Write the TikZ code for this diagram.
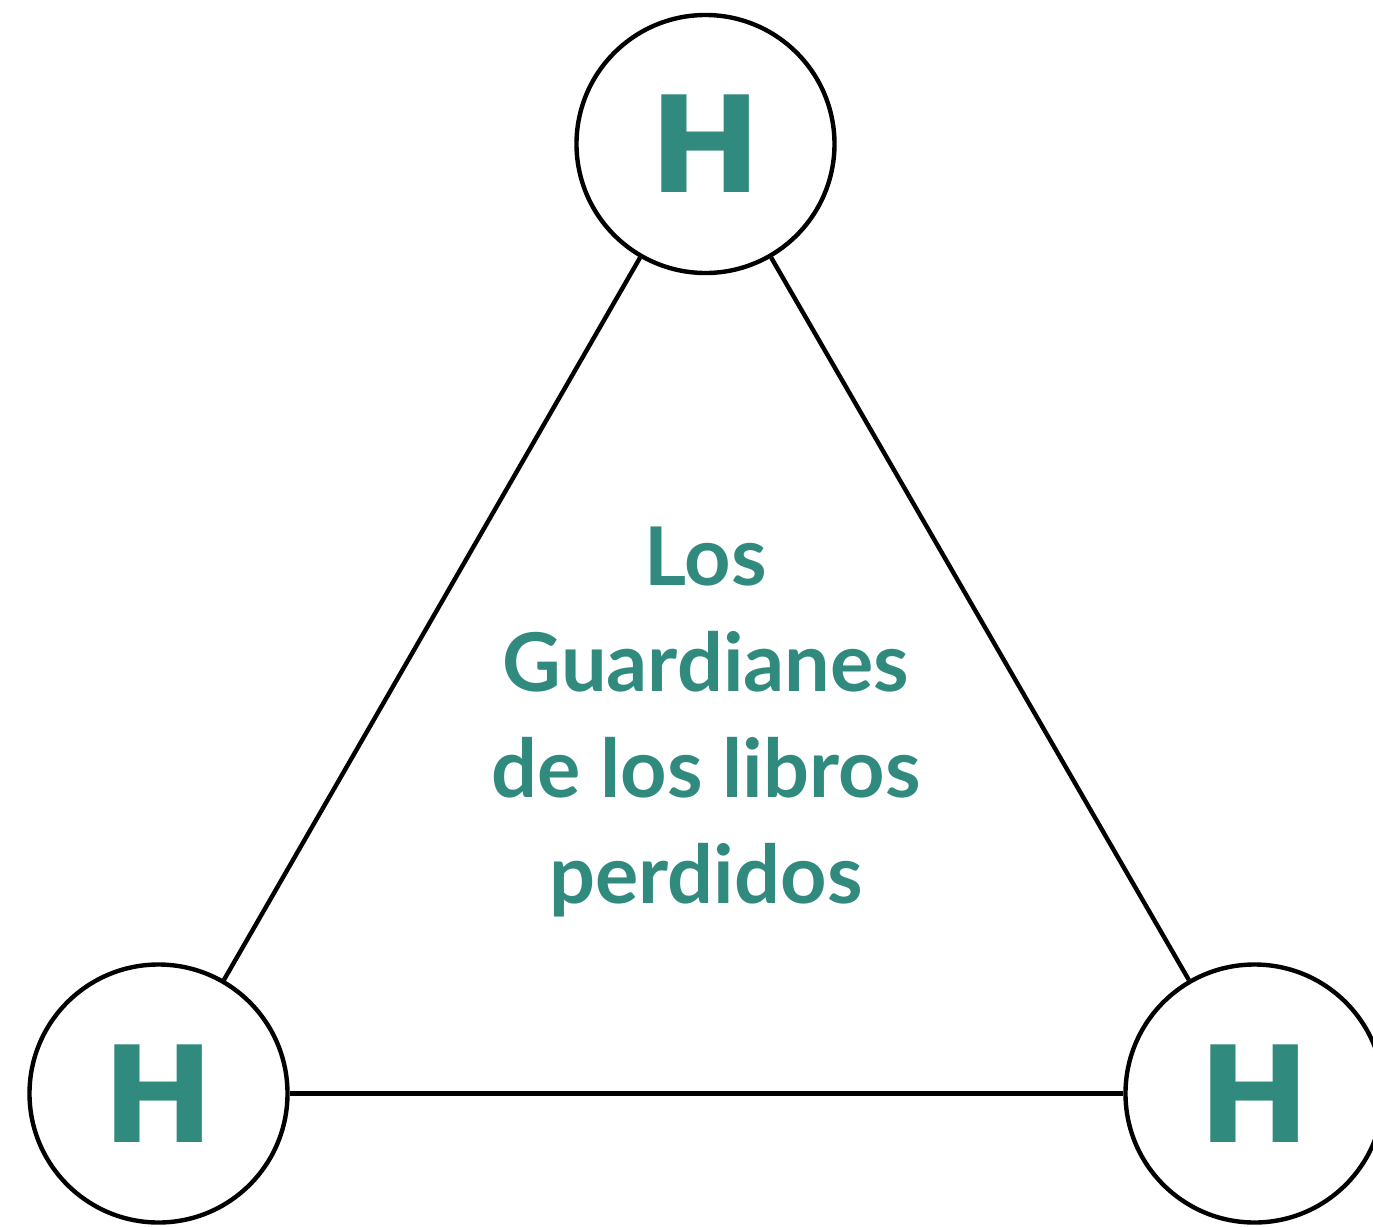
\documentclass[tikz,border=0pt]{standalone}
\usepackage{fontspec}
\newfontfamily\atomfont{DejaVu Sans}
\newfontfamily\titlefont{Lato}
\definecolor{teal}{RGB}{49,138,126}

\begin{document}
\begin{tikzpicture}[x=0.5pt, y=-0.5pt,
        atom/.style={circle, draw, line width=2.2pt, minimum size=129pt, inner sep=0pt,
            text=teal, font=\atomfont\bfseries\fontsize{67}{67}\selectfont},
        bond/.style={line width=2.2pt}]
    \useasboundingbox (0, 0) rectangle (1373, 1227);

    \node[atom] (top) at (705.5, 144) {H};
    \node[atom] (left) at (158.5, 1093.5) {H};
    \node[atom] (right) at (1254.5, 1093.5) {H};

    \node[align=center, inner sep=0pt, text=teal,
        font=\titlefont\bfseries\fontsize{40.5}{53}\selectfont] (title) at (706, 722)
        {Los\\ Guardianes\\ de los libros\\ perdidos};

    \draw[bond] (top) -- (left);
    \draw[bond] (top) -- (right);
    \draw[bond] (left) -- (right);
\end{tikzpicture}
\end{document}
